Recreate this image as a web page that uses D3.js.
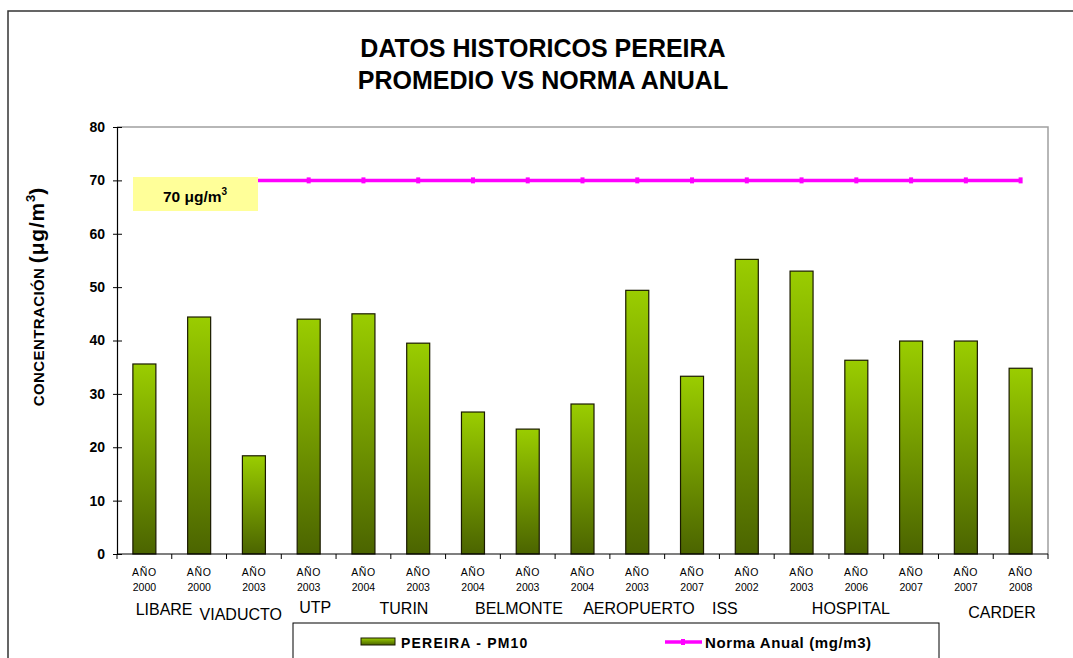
<!DOCTYPE html>
<html>
<head>
<meta charset="utf-8">
<script src="https://cdn.jsdelivr.net/npm/d3@7"></script>
<style>
  body { margin: 0; background: #fff; }
  svg { font-family: "Liberation Sans", Arial, sans-serif; }
</style>
</head>
<body>
<div id="container"></div>
<script>
// datos
const years = ["2000", "2000", "2003", "2003", "2004", "2003", "2004", "2003", "2004",
  "2003", "2007", "2002", "2003", "2006", "2007", "2007", "2008"];
const pm10 = [35.6, 44.4, 18.4, 44.0, 45.0, 39.5, 26.6, 23.4, 28.1,
  49.4, 33.3, 55.2, 53.0, 36.3, 39.9, 39.9, 34.8];
const norma = [70, 70, 70, 70, 70, 70, 70, 70, 70, 70, 70, 70, 70, 70, 70, 70, 70];
const yTicks = [0, 10, 20, 30, 40, 50, 60, 70, 80];
const stations = ["LIBARE", "VIADUCTO", "UTP", "TURIN", "BELMONTE", "AEROPUERTO", "ISS", "HOSPITAL", "CARDER"];
// posicion de cada estacion en unidades de categoria
const stationPos = [0.86, 2.26, 3.62, 5.24, 7.34, 9.53, 11.1, 13.4, 16.16];
const stationDy = [615, 620, 613, 614, 614, 614, 614, 614, 618];

const width = 1073, height = 658;
const margin = { top: 127, right: 25, bottom: 104, left: 117 };

const svg = d3.select("#container").append("svg")
  .attr("width", width).attr("height", height);

const defs = svg.append("defs");
const grad = defs.append("linearGradient").attr("id", "barGrad")
  .attr("x1", 0).attr("y1", 0).attr("x2", 0).attr("y2", 1);
grad.append("stop").attr("offset", "0%").attr("stop-color", "#9acd00");
grad.append("stop").attr("offset", "100%").attr("stop-color", "#4b6400");

// borde exterior
svg.append("rect").attr("x", 8).attr("y", 11).attr("width", 1100).attr("height", 700)
  .attr("fill", "none").attr("stroke", "#333").attr("stroke-width", 1.5);

// titulo
svg.append("text").attr("x", 543).attr("y", 57).attr("text-anchor", "middle")
  .attr("font-size", 25).attr("font-weight", "bold").text("DATOS HISTORICOS PEREIRA");
svg.append("text").attr("x", 543).attr("y", 89).attr("text-anchor", "middle")
  .attr("font-size", 25).attr("font-weight", "bold").text("PROMEDIO VS NORMA ANUAL");

const x = d3.scaleBand().domain(d3.range(pm10.length))
  .range([margin.left, width - margin.right]).paddingInner(0).paddingOuter(0);
const y = d3.scaleLinear().domain([0, 80]).range([height - margin.bottom, margin.top]);
const xPos = d3.scaleLinear().domain([0, pm10.length]).range([margin.left, width - margin.right]);

// marco del area de grafico (gris arriba y derecha)
svg.append("path")
  .attr("d", `M${margin.left},${margin.top}H${width - margin.right}V${height - margin.bottom}`)
  .attr("fill", "none").attr("stroke", "#a0a0a0").attr("stroke-width", 1.5);

// barras
svg.append("g").selectAll("rect").data(pm10).enter().append("rect")
  .attr("x", (d, i) => x(i) + x.bandwidth() * 0.29)
  .attr("width", x.bandwidth() * 0.42)
  .attr("y", d => y(d))
  .attr("height", d => y(0) - y(d))
  .attr("fill", "url(#barGrad)")
  .attr("stroke", "#1a1a00").attr("stroke-width", 1.2);

// eje y
const yAxis = d3.axisLeft(y).tickValues(yTicks).tickSizeInner(4).tickSizeOuter(0).tickPadding(8);
const gy = svg.append("g").attr("transform", `translate(${margin.left},0)`).call(yAxis);
gy.select(".domain").attr("stroke", "#000").attr("stroke-width", 1.2);
gy.selectAll(".tick line").attr("x2", 5).attr("x1", -4).attr("stroke", "#000");
gy.selectAll(".tick text").attr("font-size", 14).attr("font-weight", "bold")
  .attr("font-family", "Liberation Sans, Arial, sans-serif").attr("fill", "#000");

// eje x: marcas en limites de categoria
const gx = svg.append("g");
gx.append("line").attr("x1", margin.left).attr("x2", width - margin.right)
  .attr("y1", y(0)).attr("y2", y(0)).attr("stroke", "#000").attr("stroke-width", 1.2);
gx.selectAll("line.tk").data(d3.range(pm10.length + 1)).enter().append("line")
  .attr("class", "tk")
  .attr("x1", d => xPos(d)).attr("x2", d => xPos(d))
  .attr("y1", y(0)).attr("y2", y(0) + 5).attr("stroke", "#000");
const lab = gx.selectAll("g.lab").data(years).enter().append("g")
  .attr("transform", (d, i) => `translate(${x(i) + x.bandwidth() / 2},0)`);
lab.append("text").attr("y", 576).attr("text-anchor", "middle").attr("font-size", 10.5)
  .attr("letter-spacing", 0.6).text("AÑO");
lab.append("text").attr("y", 591).attr("text-anchor", "middle").attr("font-size", 10.5)
  .text(d => d);

// estaciones
svg.append("g").selectAll("text").data(stations).enter().append("text")
  .attr("x", (d, i) => xPos(stationPos[i]))
  .attr("y", (d, i) => stationDy[i])
  .attr("text-anchor", "middle").attr("font-size", 16).text(d => d);

// linea de norma
const line = d3.line().x((d, i) => x(i) + x.bandwidth() / 2).y(d => y(d));
svg.append("path").datum(norma).attr("d", line)
  .attr("fill", "none").attr("stroke", "#ff00ff").attr("stroke-width", 3.5);
svg.append("g").selectAll("rect").data(norma).enter().append("rect")
  .attr("x", (d, i) => x(i) + x.bandwidth() / 2 - 2)
  .attr("y", d => y(d) - 3).attr("width", 4).attr("height", 6).attr("fill", "#ff00ff");

// caja 70 ug/m3
svg.append("rect").attr("x", 133).attr("y", 177).attr("width", 125).attr("height", 34)
  .attr("fill", "#ffff99");
const t70 = svg.append("text").attr("x", 195).attr("y", 202).attr("text-anchor", "middle")
  .attr("font-size", 15.5).attr("font-weight", "bold");
t70.append("tspan").text("70 μg/m");
t70.append("tspan").attr("font-size", 10).attr("dy", -7).text("3");

// titulo eje y
const yt = svg.append("text").attr("transform", "translate(44,297) rotate(-90)")
  .attr("text-anchor", "middle").attr("font-weight", "bold");
yt.append("tspan").attr("font-size", 15).attr("letter-spacing", 0.4).text("CONCENTRACIÓN ");
yt.append("tspan").attr("font-size", 21).attr("letter-spacing", 0.8).text(" (μg/m");
yt.append("tspan").attr("font-size", 13).attr("dy", -9).text("3");
yt.append("tspan").attr("font-size", 21).attr("dy", 9).text(")");

// leyenda
const lg = svg.append("g");
lg.append("rect").attr("x", 293).attr("y", 623).attr("width", 646).attr("height", 60)
  .attr("fill", "#fff").attr("stroke", "#000").attr("stroke-width", 1);
lg.append("rect").attr("x", 361).attr("y", 638).attr("width", 34).attr("height", 7)
  .attr("fill", "url(#barGrad)").attr("stroke", "#1a1a00");
lg.append("text").attr("x", 401).attr("y", 648).attr("font-size", 14).attr("font-weight", "bold")
  .attr("letter-spacing", 1.2).text("PEREIRA - PM10");
lg.append("line").attr("x1", 665).attr("x2", 702).attr("y1", 642).attr("y2", 642)
  .attr("stroke", "#ff00ff").attr("stroke-width", 3.5);
lg.append("rect").attr("x", 681).attr("y", 639).attr("width", 4).attr("height", 6).attr("fill", "#ff00ff");
lg.append("text").attr("x", 705).attr("y", 648).attr("font-size", 15).attr("font-weight", "bold")
  .attr("letter-spacing", 0.6).text("Norma Anual (mg/m3)");
</script>
</body>
</html>
